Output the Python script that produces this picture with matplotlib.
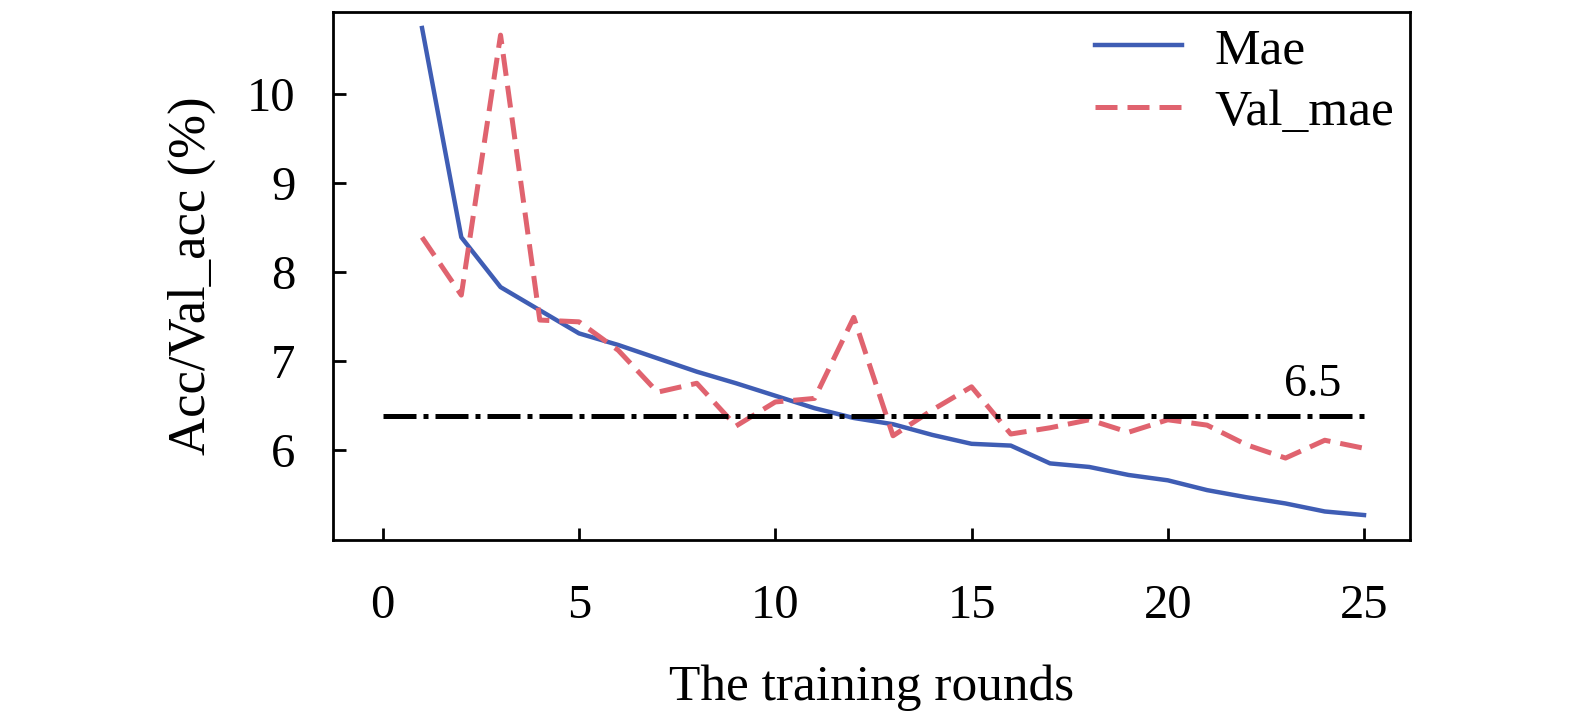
import matplotlib
matplotlib.use('Agg')
import matplotlib.pyplot as plt
import numpy as np

plt.rcParams['font.family'] = ['Liberation Serif', 'DejaVu Serif']

# data
rounds = list(range(1, 26))
mae = [10.74, 8.39, 7.83, 7.57, 7.31, 7.18, 7.03, 6.88, 6.75, 6.61,
       6.47, 6.36, 6.29, 6.17, 6.07, 6.05, 5.85, 5.81, 5.72, 5.66,
       5.55, 5.47, 5.40, 5.31, 5.27]
val_mae = [8.39, 7.74, 10.66, 7.46, 7.44, 7.12, 6.65, 6.75, 6.27, 6.54,
           6.58, 7.49, 6.16, 6.45, 6.71, 6.18, 6.25, 6.34, 6.20, 6.34,
           6.28, 6.06, 5.91, 6.11, 6.02]
ref_level = 6.38
ref_label = '6.5'

fig = plt.figure(figsize=(15.75, 7.17), dpi=100)
ax = fig.add_axes([0.2114, 0.2469, 0.6838, 0.7364])

ax.plot(rounds, mae, color='#3f5db4', lw=3.2, label='Mae')
ax.plot(rounds, val_mae, color='#e0636f', lw=3.6, ls=(0, (4.4, 2)),
        label='Val_mae')
ax.plot([0, 25], [ref_level, ref_level], color='black', lw=3.6,
        ls=(0, (6.6, 1.4, 1, 1.4)))
ax.text(23.7, 6.5, ref_label, ha='center', va='bottom', fontsize=33)

ax.set_xlim(-1.27, 26.17)
ax.set_ylim(4.99, 10.92)
ax.set_xticks([0, 5, 10, 15, 20, 25])
ax.set_yticks([6, 7, 8, 9, 10])
ax.tick_params(direction='in', length=9, width=2, labelsize=35,
               top=False, right=False)
ax.tick_params(axis='x', pad=32)
ax.tick_params(axis='y', pad=27)
for s in ax.spines.values():
    s.set_linewidth(2)

ax.set_xlabel('The training rounds', fontsize=37, labelpad=26)
ax.set_ylabel('Acc/Val_acc (%)', fontsize=38, labelpad=22)

ax.legend(loc='upper right', frameon=False, fontsize=37, handlelength=1.7,
          handletextpad=0.63, labelspacing=0.28, borderaxespad=0.0,
          borderpad=0.3)

fig.savefig('out.png', dpi=100)
